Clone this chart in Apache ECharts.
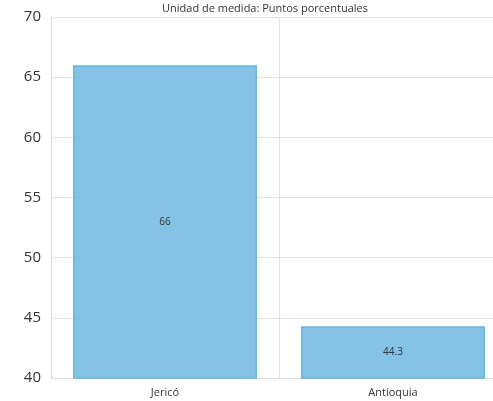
<!DOCTYPE html>
<html><head><meta charset="utf-8">
<script src="https://cdn.jsdelivr.net/npm/echarts@6/dist/echarts.min.js"></script>
<style>html,body{margin:0;padding:0;background:#fff}#c{width:493px;height:401px}</style>
</head><body><div id="c"></div>
<script>
const categories = ['Jericó', 'Antioquia'];
const values = [66, 44.3];
const yTicks = [40, 45, 50, 55, 60, 65, 70];
const titleText = 'Unidad de medida: Puntos porcentuales';

const chart = echarts.init(document.getElementById('c'), null, {renderer: 'canvas'});
chart.setOption({
  animation: false,
  title: {
    text: titleText, left: 260, top: -2, textAlign: 'center',
    textStyle: {fontFamily: 'Open Sans', fontSize: 11, fontWeight: 'normal', color: '#333'}
  },
  grid: {left: 51, right: -14, top: 17, bottom: 23, outerBoundsMode: 'none', containLabel: false},
  xAxis: {
    type: 'category', data: categories,
    axisLine: {show: true, lineStyle: {color: '#ddd'}},
    axisTick: {show: false},
    splitLine: {show: true, lineStyle: {color: '#e3e3e3'}},
    axisLabel: {fontFamily: 'Open Sans', fontSize: 11, color: '#333', margin: 9}
  },
  yAxis: {
    type: 'value', min: yTicks[0], max: yTicks[yTicks.length - 1], interval: 5,
    axisLine: {show: true, lineStyle: {color: '#ddd'}},
    axisTick: {show: false},
    splitLine: {lineStyle: {color: '#e3e3e3'}},
    axisLabel: {fontFamily: 'Open Sans', fontSize: 15, color: '#333', margin: 10}
  },
  series: [{
    type: 'bar', data: values, barWidth: 184,
    itemStyle: {color: 'rgba(110,185,225,0.85)', borderColor: '#6ab6dd', borderWidth: 1.5},
    label: {show: true, position: 'inside', fontFamily: 'Open Sans', fontSize: 10, color: '#333'}
  }]
});
</script></body></html>
